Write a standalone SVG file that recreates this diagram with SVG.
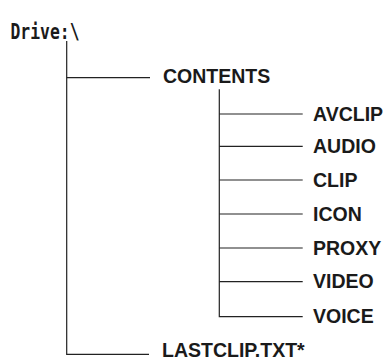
<svg xmlns="http://www.w3.org/2000/svg" width="387" height="359" viewBox="0 0 387 359">
<style>
.lbl{font-family:"Liberation Sans",Arial,sans-serif;font-weight:bold;font-size:19.5px;fill:#1a1a1a}
.root{font-family:"DejaVu Sans Mono","Liberation Mono",monospace;font-weight:bold;font-size:18px;fill:#1a1a1a}
.ln{stroke:#222;stroke-width:1.2;fill:none}
</style>
<rect width="387" height="359" fill="#fff"/>
<g id="connectors">
<path class="ln" d="M66.7 41V354.3H149"/>
<path class="ln" d="M66.7 77.7H150"/>
<path class="ln" d="M219.3 89.3V316.7H302.7"/>
<path class="ln" d="M219.3 114H302.7M219.3 146.3H302.7M219.3 180H302.7M219.3 214H302.7M219.3 248H302.7M219.3 281.7H302.7"/>
</g>
<g id="drive"><text class="root" transform="translate(10.5 38.5) scale(1 1.2)" x="0" y="0" textLength="69" lengthAdjust="spacingAndGlyphs">Drive:\</text></g>
<g id="contents"><text class="lbl" x="163" y="83">CONTENTS</text></g>
<g id="avclip"><text class="lbl" x="313" y="120.8">AVCLIP</text></g>
<g id="audio"><text class="lbl" x="313" y="153">AUDIO</text></g>
<g id="clip"><text class="lbl" x="313" y="186.7">CLIP</text></g>
<g id="icon"><text class="lbl" x="313" y="220.7">ICON</text></g>
<g id="proxy"><text class="lbl" x="313" y="254.7">PROXY</text></g>
<g id="video"><text class="lbl" x="313" y="288.4">VIDEO</text></g>
<g id="voice"><text class="lbl" x="313" y="323.4">VOICE</text></g>
<g id="lastclip"><text class="lbl" x="162" y="356.5">LASTCLIP.TXT*</text></g>
</svg>
